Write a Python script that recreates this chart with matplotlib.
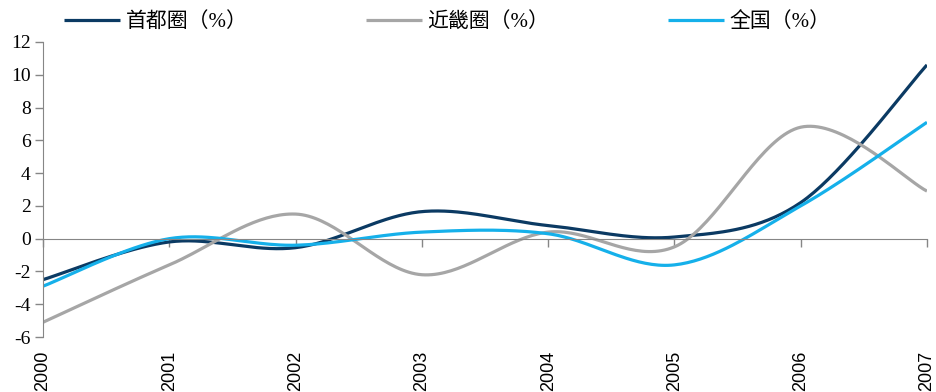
import numpy as np
import matplotlib
matplotlib.use('Agg')
from matplotlib import pyplot as plt

plt.rcParams['font.family'] = ['Liberation Serif', 'Noto Sans CJK SC', 'DejaVu Sans']

years = [2000, 2001, 2002, 2003, 2004, 2005, 2006, 2007]
shoudu = [-2.5, -0.2, -0.55, 1.65, 0.8, 0.1, 2.2, 10.6]
kinki = [-5.1, -1.6, 1.5, -2.2, 0.4, -0.5, 6.8, 2.9]
quanguo = [-2.9, 0.0, -0.4, 0.4, 0.3, -1.6, 2.0, 7.1]
names = [u'首都圈（%）', u'近畿圈（%）', u'全国（%）']
colors = ['#0b3a63', '#a6a6a6', '#15b0ea']
yticks = [-6, -4, -2, 0, 2, 4, 6, 8, 10, 12]


def smooth(x, y, n=40):
    # Catmull-Rom style bezier, as office charts do for "smoothed line"
    x = np.asarray(x, float)
    y = np.asarray(y, float)
    pts = np.column_stack([x, y])
    ext = np.vstack([pts[0], pts, pts[-1]])
    out = []
    t = np.linspace(0, 1, n)[:, None]
    for i in range(len(pts) - 1):
        p0, p3 = ext[i + 1], ext[i + 2]
        p1 = p0 + (ext[i + 2] - ext[i]) / 6.0
        p2 = p3 - (ext[i + 3] - ext[i + 1]) / 6.0
        seg = ((1 - t) ** 3) * p0 + 3 * ((1 - t) ** 2) * t * p1 + 3 * (1 - t) * t ** 2 * p2 + t ** 3 * p3
        out.append(seg if i == 0 else seg[1:])
    out = np.vstack(out)
    return out[:, 0], out[:, 1]


fig = plt.figure(figsize=(9.37, 3.92), dpi=100, facecolor='w')
ax = fig.add_axes([0.0459, 0.1403, 0.9434, 0.7526])

lines = []
for data, name, c in zip([shoudu, kinki, quanguo], names, colors):
    sx, sy = smooth(years, data)
    ln, = ax.plot(sx, sy, color=c, lw=2.3, label=name, solid_capstyle='butt')
    lines.append(ln)

ax.set_xlim(2000, 2007)
ax.set_ylim(-6, 12)
ax.set_yticks(yticks)
ax.set_yticklabels([str(v) for v in yticks], fontsize=14)

axis_c = '#868686'
for s in ['top', 'right']:
    ax.spines[s].set_visible(False)
ax.spines['left'].set_color(axis_c)
ax.spines['bottom'].set_color(axis_c)
ax.spines['bottom'].set_position(('data', 0))
ax.tick_params(axis='y', colors=axis_c, labelcolor='black', length=6, width=1, pad=3)
ax.set_xticks(years)
ax.tick_params(axis='x', colors=axis_c, length=6, width=1, labelbottom=False)

# year labels sit below the plot area, rotated, in a sans face
sec = ax.secondary_xaxis('bottom')
sec.set_xticks(years)
sec.set_xticklabels([str(y) for y in years], rotation=90, fontsize=13)
sec.tick_params(length=0, pad=10)
sec.spines['bottom'].set_visible(False)
for lbl in sec.get_xticklabels():
    lbl.set_fontfamily('Liberation Sans')

# one legend per series so each entry lands where it should
for ln, x0 in zip(lines, [64, 366, 668]):
    fig.legend(handles=[ln], loc='center left', bbox_to_anchor=(x0 / 937.0, 1 - 22 / 392.0),
               frameon=False, fontsize=15, handlelength=2.7, handletextpad=0.25,
               borderpad=0, borderaxespad=0)

fig.savefig('out.png', dpi=100, facecolor='w')
